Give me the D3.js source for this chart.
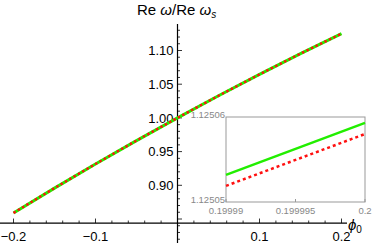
<!DOCTYPE html>
<html lang="en">
<head>
<meta charset="utf-8">
<script src="https://cdn.jsdelivr.net/npm/d3@7"></script>
<style>
  body { margin: 0; background: #fff; }
  text { font-family: "Liberation Sans", Arial, sans-serif; }
</style>
</head>
<body>
<div id="chart"></div>
<script>
// main curve (both series coincide at this scale)
var phi = [-0.2, -0.15, -0.1, -0.05, 0, 0.05, 0.1, 0.15, 0.2];
var ratioGreen = [0.859, 0.8958, 0.9315, 0.9663, 1.0, 1.0328, 1.0645, 1.0953, 1.125];
var ratioRed = [0.859, 0.8958, 0.9315, 0.9663, 1.0, 1.0328, 1.0645, 1.0953, 1.125];
var xTicks = [-0.2, -0.1, 0.1, 0.2];
var xTickLabels = ["\u22120.2", "\u22120.1", "0.1", "0.2"];
var yTicks = [0.9, 0.95, 1.0, 1.05, 1.1];
var yTickLabels = ["0.90", "0.95", "1.00", "1.05", "1.10"];

// inset zoom near phi = 0.2
var insetPhi = [0.19999, 0.2];
var insetGreen = [1.1250532, 1.1250593];
var insetRed = [1.1250519, 1.1250580];
var insetXTicks = [0.19999, 0.199995, 0.2];
var insetXLabels = ["0.19999", "0.199995", "0.2"];
var insetYTicks = [1.12505, 1.12506];
var insetYLabels = ["1.12505", "1.12506"];

var width = 374, height = 243;
var svg = d3.select("#chart").append("svg").attr("width", width).attr("height", height);

var x = d3.scaleLinear().domain([-0.2, 0.2]).range([13.5, 341.5]);
var y = d3.scaleLinear().domain([0.9, 1.1]).range([185.3, 50.5]);
var yOrigin = 0.844;

// x axis
var xa = svg.append("g").attr("transform", "translate(0," + y(yOrigin) + ")");
xa.append("line").attr("x1", 0).attr("x2", 347).attr("stroke", "#000").attr("stroke-width", 1.2);
xa.selectAll(".minor").data(d3.range(-20, 21, 2).map(function(d){ return d/100 }))
  .enter().append("line")
  .attr("x1", function(d){ return x(d) }).attr("x2", function(d){ return x(d) })
  .attr("y1", 0).attr("y2", function(d){ return xTicks.some(function(t){ return Math.abs(t-d)<1e-9 }) ? -4.5 : -2.5 })
  .attr("stroke", "#000").attr("stroke-width", 0.8);
xa.selectAll(".lbl").data(xTicks).enter().append("text")
  .attr("x", function(d){ return x(d) }).attr("y", 18)
  .attr("text-anchor", "middle").attr("font-size", 13)
  .text(function(d,i){ return xTickLabels[i] });

// y axis
var ya = svg.append("g").attr("transform", "translate(" + x(0) + ",0)");
ya.append("line").attr("y1", 24).attr("y2", 243).attr("stroke", "#000").attr("stroke-width", 1.2);
ya.selectAll(".minor").data(d3.range(82, 114, 1).map(function(d){ return d/100 }))
  .enter().append("line")
  .attr("y1", function(d){ return y(d) }).attr("y2", function(d){ return y(d) })
  .attr("x1", 0).attr("x2", function(d){ return Math.round(d*100) % 5 === 0 ? 4.5 : 2.5 })
  .attr("stroke", "#000").attr("stroke-width", 0.8);
ya.selectAll(".lbl").data(yTicks).enter().append("text")
  .attr("x", -4).attr("y", function(d){ return y(d) })
  .attr("dy", "0.36em").attr("text-anchor", "end").attr("font-size", 13)
  .text(function(d,i){ return yTickLabels[i] });

// axis labels
var title = svg.append("text").attr("x", 137).attr("y", 15).attr("font-size", 15);
title.append("tspan").text("Re ");
title.append("tspan").attr("font-style", "italic").text("\u03c9");
title.append("tspan").text("/Re ");
title.append("tspan").attr("font-style", "italic").text("\u03c9");
title.append("tspan").attr("font-style", "italic").attr("font-size", 10).attr("dy", 3).text("s");

var xl = svg.append("text").attr("x", 348).attr("y", 230).attr("font-size", 15);
xl.append("tspan").attr("font-style", "italic").text("\u03d5");
xl.append("tspan").attr("font-size", 10).attr("dy", 3).text("0");

// main curves
var line = d3.line().x(function(d){ return x(d[0]) }).y(function(d){ return y(d[1]) }).curve(d3.curveMonotoneX);
svg.append("path").datum(d3.zip(phi, ratioGreen)).attr("d", line)
  .attr("fill", "none").attr("stroke", "#22ee00").attr("stroke-width", 3);
svg.append("path").datum(d3.zip(phi, ratioRed)).attr("d", line)
  .attr("fill", "none").attr("stroke", "#ff1010").attr("stroke-width", 2.4)
  .attr("stroke-dasharray", "2.5,2.5");

// inset
var ix = d3.scaleLinear().domain([0.19999, 0.2]).range([226, 365]);
var iy = d3.scaleLinear().domain([1.12505, 1.12506]).range([202, 117]);
var inset = svg.append("g");
inset.append("rect").attr("x", 226).attr("y", 117).attr("width", 139).attr("height", 85)
  .attr("fill", "#fff").attr("stroke", "#999").attr("stroke-width", 1);
inset.selectAll(".tk").data(insetXTicks).enter().append("line")
  .attr("x1", function(d){ return ix(d) }).attr("x2", function(d){ return ix(d) })
  .attr("y1", 202).attr("y2", 199).attr("stroke", "#999");
inset.selectAll(".xl").data(insetXTicks).enter().append("text")
  .attr("x", function(d){ return ix(d) }).attr("y", 214)
  .attr("text-anchor", "middle").attr("font-size", 9.5).attr("fill", "#888")
  .text(function(d,i){ return insetXLabels[i] });
inset.selectAll(".yl").data(insetYTicks).enter().append("text")
  .attr("x", 225).attr("y", function(d){ return iy(d) }).attr("dy", "0.1em")
  .attr("text-anchor", "end").attr("font-size", 9.5).attr("fill", "#888")
  .text(function(d,i){ return insetYLabels[i] });
var iline = d3.line().x(function(d){ return ix(d[0]) }).y(function(d){ return iy(d[1]) });
inset.append("path").datum(d3.zip(insetPhi, insetGreen)).attr("d", iline)
  .attr("fill", "none").attr("stroke", "#22ee00").attr("stroke-width", 2.5);
inset.append("path").datum(d3.zip(insetPhi, insetRed)).attr("d", iline)
  .attr("fill", "none").attr("stroke", "#ff1010").attr("stroke-width", 2.5)
  .attr("stroke-dasharray", "3,3");
</script>
</body>
</html>
